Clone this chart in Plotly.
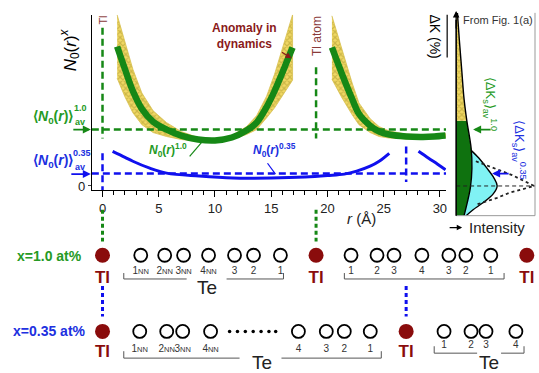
import plotly.graph_objects as go

W, H = 539, 373

# ---------------- data ----------------
# N0(r) for x = 1.0 at% (two branches) and the spread band around it
g1_r = [1.3, 2.0, 2.7, 3.5, 4.5, 5.7, 7.0, 8.5, 10.0, 11.5, 12.8, 13.7, 14.6, 15.3, 15.9, 16.4, 16.9]
g1_n = [7.05, 5.9, 4.8, 3.9, 3.25, 2.85, 2.55, 2.35, 2.3, 2.45, 2.8, 3.2, 4.0, 4.8, 5.6, 6.3, 7.0]
g1_spread = [1.6, 1.4, 1.1, 0.8, 0.55, 0.35, 0.2, 0.1, 0.08, 0.1, 0.2, 0.35, 0.55, 0.85, 1.15, 1.4, 1.65]
g2_r = [20.4, 21.3, 22.2, 22.8, 23.8, 24.6, 25.5, 27.0, 28.5, 29.5, 30.5]
g2_n = [7.0, 5.65, 4.4, 3.65, 3.05, 2.75, 2.6, 2.5, 2.48, 2.5, 2.55]
g2_spread = [1.6, 1.2, 0.8, 0.55, 0.35, 0.25, 0.18, 0.12, 0.1, 0.1, 0.1]
# N0(r) for x = 0.35 at%
b1_r = [0.9, 2.0, 2.7, 4.2, 5.7, 8.6, 11.6, 15.0, 18.0, 20.0, 21.5, 22.6, 23.8, 24.6, 25.5]
b1_n = [1.75, 1.45, 1.25, 0.9, 0.65, 0.5, 0.4, 0.4, 0.45, 0.525, 0.6, 0.75, 1.0, 1.25, 1.65]
b2_r = [28.1, 29.0, 29.8, 30.5]
b2_n = [1.75, 1.4, 1.1, 0.82]
avg_n_10 = 2.85
avg_n_035 = 0.625
x_ticks = [0, 5, 10, 15, 20, 25, 30]

# right panel: Delta K distributions (level vs intensity)
dk_levels = [8.75, 7.4, 5.9, 4.4, 3.3, 1.9, 0.9, -0.1, -0.85, -1.5]
dk_int_10 = [0.016, 0.04, 0.07, 0.10, 0.135, 0.19, 0.20, 0.18, 0.14, 0.10]
dk_solid_from = 4
dk035_levels = [1.8, 1.4, 0.9, 0.4, 0.0, -0.4, -0.85, -1.2, -1.5]
dk035_int = [0.19, 0.29, 0.39, 0.48, 0.52, 0.47, 0.34, 0.215, 0.127]
fig1a_levels = [1.25, 0.55, 0.0, -0.35, -0.6, -0.95]
fig1a_int = [0.25, 0.71, 0.99, 0.67, 0.52, 0.25]

# atom chains (positions in Angstrom)
tl_row1_r = [0.0, 18.99, 37.73]
te_row1_r = [3.40, 5.53, 7.21, 9.43, 11.74, 13.43, 15.82, 22.10, 24.41, 25.92, 28.40, 30.80, 32.31, 34.53]
te_row1_lab = ["1NN", "2NN", "3NN", "4NN", "3", "2", "1", "1", "2", "3", "4", "3", "2", "1"]
tl_row2_r = [0.0, 27.0]
te_row2_r = [3.31, 5.71, 7.13, 9.61, 17.42, 19.90, 21.50, 23.81, 30.37, 32.77, 34.10, 36.76]
te_row2_lab = ["1NN", "2NN", "3NN", "4NN", "4", "3", "2", "1", "1", "2", "3", "4"]
te_row2_split = 8  # labels after this index belong to the right-hand group
dots_r = [11.3, 12.0, 12.7, 13.4, 14.1, 14.8, 15.4]

# ---------------- styles ----------------
GREEN = "#168816"
GREEN_T = "#259a25"
BLUE = "#1010ee"
BLUE_T = "#2030e0"
DRED = "#8a0c0c"
YEL = "#f0d864"
OLIVE = "#a8942c"
FONT = "Liberation Sans, Arial, sans-serif"
ROW1_Y, ROW2_Y = 258, 335


def PX(x):
    return x / W


def PY(y):
    return 1 - y / H


fig = go.Figure()


def nn_label(s):
    if s.endswith("NN"):
        return s[:-2] + "<span style='font-size:7.5px'>NN</span>"
    return s


CHECK = dict(shape="x", fgcolor=OLIVE, bgcolor=YEL, size=4, solidity=0.5)

# yellow spread bands
for r, n, s in [(g1_r, g1_n, g1_spread), (g2_r, g2_n, g2_spread)]:
    hi = [a + b for a, b in zip(n, s)]
    lo = [a - b for a, b in zip(n, s)]
    fig.add_trace(go.Scatter(
        x=r + r[::-1], y=hi + lo[::-1], fill="toself", mode="lines",
        line=dict(width=0.8, color="#d8c050"), fillcolor=YEL, fillpattern=CHECK,
        xaxis="x", yaxis="y", hoverinfo="skip"))

for r, n in [(g1_r, g1_n), (g2_r, g2_n)]:
    fig.add_trace(go.Scatter(x=r, y=n, mode="lines", line=dict(color=GREEN, width=6.5, shape="spline"),
                             xaxis="x", yaxis="y", hoverinfo="skip"))
for r, n in [(b1_r, b1_n), (b2_r, b2_n)]:
    fig.add_trace(go.Scatter(x=r, y=n, mode="lines", line=dict(color=BLUE, width=3, shape="spline"),
                             xaxis="x", yaxis="y", hoverinfo="skip"))

# ----- right panel -----
fig.add_trace(go.Scatter(x=dk035_int + [0, 0], y=dk035_levels + [dk035_levels[-1], dk035_levels[0]],
                         fill="toself", mode="lines", line=dict(width=0), fillcolor="#80f2f4",
                         xaxis="x3", yaxis="y3", hoverinfo="skip"))
sl = slice(dk_solid_from, None)
fig.add_trace(go.Scatter(x=dk_int_10[sl] + [0, 0],
                         y=dk_levels[sl] + [dk_levels[-1], dk_levels[dk_solid_from]],
                         fill="toself", mode="lines", line=dict(width=0), fillcolor="#0f720f",
                         xaxis="x3", yaxis="y3", hoverinfo="skip"))
tp = slice(0, dk_solid_from + 1)
fig.add_trace(go.Scatter(x=dk_int_10[tp] + [0, 0],
                         y=dk_levels[tp] + [dk_levels[dk_solid_from], dk_levels[0]],
                         fill="toself", mode="lines", line=dict(width=0), fillcolor=YEL, fillpattern=CHECK,
                         xaxis="x3", yaxis="y3", hoverinfo="skip"))
fig.add_trace(go.Scatter(x=dk_int_10, y=dk_levels, mode="lines", line=dict(color="black", width=1.4, shape="spline"),
                         xaxis="x3", yaxis="y3", hoverinfo="skip"))
fig.add_trace(go.Scatter(x=dk035_int, y=dk035_levels, mode="lines", line=dict(color="black", width=1.4, shape="spline"),
                         xaxis="x3", yaxis="y3", hoverinfo="skip"))
fig.add_trace(go.Scatter(x=fig1a_int, y=fig1a_levels, mode="lines",
                         line=dict(color="#222", width=1.8, dash="dot"),
                         xaxis="x3", yaxis="y3", hoverinfo="skip"))

# ----- atom chains (full-figure overlay axes) -----
fig.add_trace(go.Scatter(x=te_row1_r, y=[ROW1_Y] * len(te_row1_r), mode="markers",
                         marker=dict(size=13, color="white", line=dict(color="black", width=1.8)),
                         xaxis="x2", yaxis="y2", cliponaxis=False, hoverinfo="skip"))
fig.add_trace(go.Scatter(x=te_row2_r, y=[ROW2_Y] * len(te_row2_r), mode="markers",
                         marker=dict(size=13, color="white", line=dict(color="black", width=1.8)),
                         xaxis="x2", yaxis="y2", cliponaxis=False, hoverinfo="skip"))
fig.add_trace(go.Scatter(x=tl_row1_r + tl_row2_r,
                         y=[ROW1_Y] * len(tl_row1_r) + [ROW2_Y] * len(tl_row2_r), mode="markers",
                         marker=dict(size=15, color=DRED), xaxis="x2", yaxis="y2", cliponaxis=False,
                         hoverinfo="skip"))
fig.add_trace(go.Scatter(x=dots_r, y=[ROW2_Y] * len(dots_r), mode="markers",
                         marker=dict(size=3.5, color="black"), xaxis="x2", yaxis="y2", hoverinfo="skip"))
fig.add_trace(go.Scatter(x=te_row1_r, y=[ROW1_Y + 16] * len(te_row1_r), mode="text",
                         text=[nn_label(s) for s in te_row1_lab],
                         textfont=dict(size=10, color="#333", family=FONT),
                         xaxis="x2", yaxis="y2", cliponaxis=False, hoverinfo="skip"))
k = te_row2_split
fig.add_trace(go.Scatter(x=te_row2_r[:k], y=[ROW2_Y + 18] * k, mode="text",
                         text=[nn_label(s) for s in te_row2_lab[:k]],
                         textfont=dict(size=10, color="#333", family=FONT),
                         xaxis="x2", yaxis="y2", cliponaxis=False, hoverinfo="skip"))
fig.add_trace(go.Scatter(x=te_row2_r[k:], y=[ROW2_Y + 14] * (len(te_row2_r) - k), mode="text",
                         text=[nn_label(s) for s in te_row2_lab[k:]],
                         textfont=dict(size=10, color="#333", family=FONT),
                         xaxis="x2", yaxis="y2", cliponaxis=False, hoverinfo="skip"))
fig.add_trace(go.Scatter(x=tl_row1_r + tl_row2_r,
                         y=[ROW1_Y + 24] * len(tl_row1_r) + [ROW2_Y + 22] * len(tl_row2_r), mode="text",
                         text=["<b>Tl</b>"] * (len(tl_row1_r) + len(tl_row2_r)),
                         textfont=dict(size=17, color=DRED, family=FONT),
                         xaxis="x2", yaxis="y2", cliponaxis=False, hoverinfo="skip"))

shapes = []
annotations = []


def pline(x0, y0, x1, y1, color="black", width=1, dash=None):
    d = dict(type="line", xref="paper", yref="paper", x0=PX(x0), y0=PY(y0), x1=PX(x1), y1=PY(y1),
             line=dict(color=color, width=width))
    if dash:
        d["line"]["dash"] = dash
    shapes.append(d)


def ppath(pts, color="#555", width=1):
    p = "M " + " L ".join(f"{PX(x)},{PY(y)}" for x, y in pts)
    shapes.append(dict(type="path", xref="paper", yref="paper", path=p, line=dict(color=color, width=width)))


def dline(xref, yref, x0, y0, x1, y1, color, width=2.5, dash="7px,4px"):
    shapes.append(dict(type="line", xref=xref, yref=yref, x0=x0, y0=y0, x1=x1, y1=y1,
                       line=dict(color=color, width=width, dash=dash)))


def text(x, y, t, size=12, color="black", angle=0, xanchor="center", yanchor="middle"):
    annotations.append(dict(x=PX(x), y=PY(y), xref="paper", yref="paper", text=t, showarrow=False,
                            font=dict(size=size, color=color, family=FONT), textangle=angle,
                            xanchor=xanchor, yanchor=yanchor))


def arrow(x0, y0, x1, y1, color, width=1.5, head=2, size=1.0):
    annotations.append(dict(x=PX(x1), y=PY(y1), xref="paper", yref="paper", ax=x0 - x1, ay=y0 - y1,
                            text="", showarrow=True, arrowhead=head, arrowsize=size, arrowwidth=width,
                            arrowcolor=color))


# main-plot dashed guide lines
dline("x", "y", -0.95, avg_n_10, 30.55, avg_n_10, GREEN)
dline("x", "y", -0.95, avg_n_035, 30.55, avg_n_035, BLUE)
dline("x", "y", tl_row1_r[0], 8.0, tl_row1_r[0], 2.4, GREEN)
dline("x", "y", tl_row2_r[0], 1.65, tl_row2_r[0], -0.2, BLUE)
dline("x", "y", tl_row1_r[1], 6.0, tl_row1_r[1], 2.4, GREEN)
dline("x", "y", tl_row2_r[1], 2.0, tl_row2_r[1], 0.2, BLUE)

# connectors in the chain diagram
dline("x2", "y2", tl_row1_r[0], 212, tl_row1_r[0], 244, GREEN, 3, "4px,3px")
dline("x2", "y2", tl_row1_r[1], 212, tl_row1_r[1], 244, GREEN, 3, "4px,3px")
dline("x2", "y2", tl_row2_r[0], 289, tl_row2_r[0], 320, BLUE, 3, "4px,3px")
dline("x2", "y2", tl_row2_r[1], 289, tl_row2_r[1], 320, BLUE, 3, "4px,3px")

# panel frame + zero line
shapes.append(dict(type="line", xref="x3", yref="y3", x0=0, x1=1, y0=0, y1=0,
                   line=dict(color="#222", width=1, dash="4px,3px")))
pline(536, 13, 536, 218, "#999", 1)
pline(457, 218, 536, 218, "#999", 1)
pline(457, 218, 457, 20, "black", 1.6)
arrow(457, 30, 457, 11, "black", 1.3, 2, 1)
pline(448, 15, 448, 58, "black", 1.2)

# brackets
ppath([(124, 276), (124, 282), (187, 282)])
ppath([(227, 282), (284, 282), (284, 276)])
ppath([(345, 276), (345, 282), (505, 282), (505, 276)])
ppath([(124, 355), (124, 362), (240, 362)])
ppath([(282, 362), (382, 362), (382, 355)])
ppath([(435, 350), (435, 357), (478, 357)])
ppath([(502, 357), (525, 357), (525, 350)])
text(207, 291, "Te", 19, "#222")
text(262, 366, "Te", 19, "#222")
text(490, 366, "Te", 19, "#222")

# pointer lines for curve labels
pline(190, 158, 202, 144, GREEN, 1.2)
pline(268, 165, 276, 176, BLUE, 1.2)

# texts
text(70, 50, "<i>N</i><sub>0</sub>(<i>r</i>)<sup><i>x</i></sup>", 17, "black", -90)
text(53, 118, "<b>⟨<i>N</i><sub>0</sub>(<i>r</i>)⟩</b>", 14, GREEN_T)
text(81, 109, "<b>1.0</b>", 9, GREEN_T)
text(80, 123, "<b>av</b>", 9, GREEN_T)
arrow(72, 131, 91, 131, GREEN, 1.6, 2, 1)
text(53, 163, "<b>⟨<i>N</i><sub>0</sub>(<i>r</i>)⟩</b>", 14, BLUE_T)
text(82, 155, "<b>0.35</b>", 9, BLUE_T)
text(80, 169, "<b>av</b>", 9, BLUE_T)
arrow(70, 176, 91, 176, BLUE, 1.6, 2, 1)

text(168, 152, "<b><i>N</i><sub>0</sub>(<i>r</i>)<sup>1.0</sup></b>", 12, GREEN_T)
text(275, 152, "<b><i>N</i><sub>0</sub>(<i>r</i>)<sup>0.35</sup></b>", 12, BLUE_T)
text(245, 36, "<b>Anomaly in<br>dynamics</b>", 12, "#8a1a1a")
arrow(281, 52, 292, 59, "#8a1a1a", 1.2, 2, 1)
text(317, 36, "Tl atom", 12, "#8a3a3a", -90)
text(103, 20, "Tl", 11, "#8a3a3a", -90)
text(362, 221, "<i>r</i> (Å)", 15, "#222")

text(436, 37, "ΔK (%)", 14, "black", 90)
text(499, 20, "From Fig. 1(a)", 11, "#333")
text(491, 105, "⟨ΔK<sub>s</sub>⟩<sub>av</sub><sup>1.0</sup>", 13, GREEN_T, 90)
text(520, 151, "⟨ΔK<sub>s</sub>⟩<sub>av</sub><sup>0.35</sup>", 13, BLUE_T, 90)
annotations.append(dict(x=0.215, y=avg_n_10, xref="x3", yref="y3", ax=19, ay=0, text="", showarrow=True,
                        arrowhead=2, arrowwidth=1.6, arrowcolor=GREEN))
annotations.append(dict(x=0.456, y=avg_n_035, xref="x3", yref="y3", ax=18, ay=0, text="", showarrow=True,
                        arrowhead=2, arrowwidth=1.6, arrowcolor=BLUE))
arrow(449, 230, 463, 230, "black", 1.2, 2, 0.9)
text(498, 230, "Intensity", 15, "#222")

text(50, 259, "<b>x=1.0 at%</b>", 14, GREEN_T)
text(50, 335, "<b>x=0.35 at%</b>", 14, BLUE_T)

# ---------------- layout ----------------
x_scale = (440.7 - 102.7) / 30.0
fig.update_layout(
    width=W, height=H, margin=dict(l=0, r=0, t=0, b=0),
    paper_bgcolor="white", plot_bgcolor="rgba(0,0,0,0)", showlegend=False,
    font=dict(family=FONT, size=12, color="#222"),
    xaxis=dict(domain=[PX(92), PX(447)], range=[(92 - 102.7) / x_scale, (447 - 102.7) / x_scale],
               anchor="y", showline=True, linecolor="black", linewidth=1.2, ticks="outside", ticklen=6,
               tickwidth=1, tickcolor="black", tickvals=x_ticks, showgrid=False, zeroline=False,
               tickfont=dict(size=13, color="#222"),
               minor=dict(dtick=1, tick0=0, ticks="outside", ticklen=4, tickwidth=1, tickcolor="black",
                          showgrid=False)),
    yaxis=dict(domain=[PY(192), PY(15)], range=[(188 - 192) / 20, (188 - 15) / 20], anchor="x",
               showline=True, linecolor="black", linewidth=1.2, ticks="outside", ticklen=3,
               tickvals=[0], showgrid=False, zeroline=False, tickfont=dict(size=13, color="#222")),
    xaxis2=dict(domain=[0, 1], range=[-102.7 / x_scale, (W - 102.7) / x_scale], anchor="y2",
                visible=False, fixedrange=True),
    yaxis2=dict(domain=[0, 1], range=[H, 0], anchor="x2", visible=False, fixedrange=True),
    xaxis3=dict(domain=[PX(457), PX(536)], range=[0, 1], anchor="y3", visible=False),
    yaxis3=dict(domain=[PY(218), PY(13)], range=[(188 - 218) / 20, (188 - 13) / 20], anchor="x3",
                visible=False),
    shapes=shapes, annotations=annotations,
)

fig.write_html("out.html", config={"displayModeBar": False},
               post_script="document.body.style.margin='0px';document.body.style.overflow='hidden';")
